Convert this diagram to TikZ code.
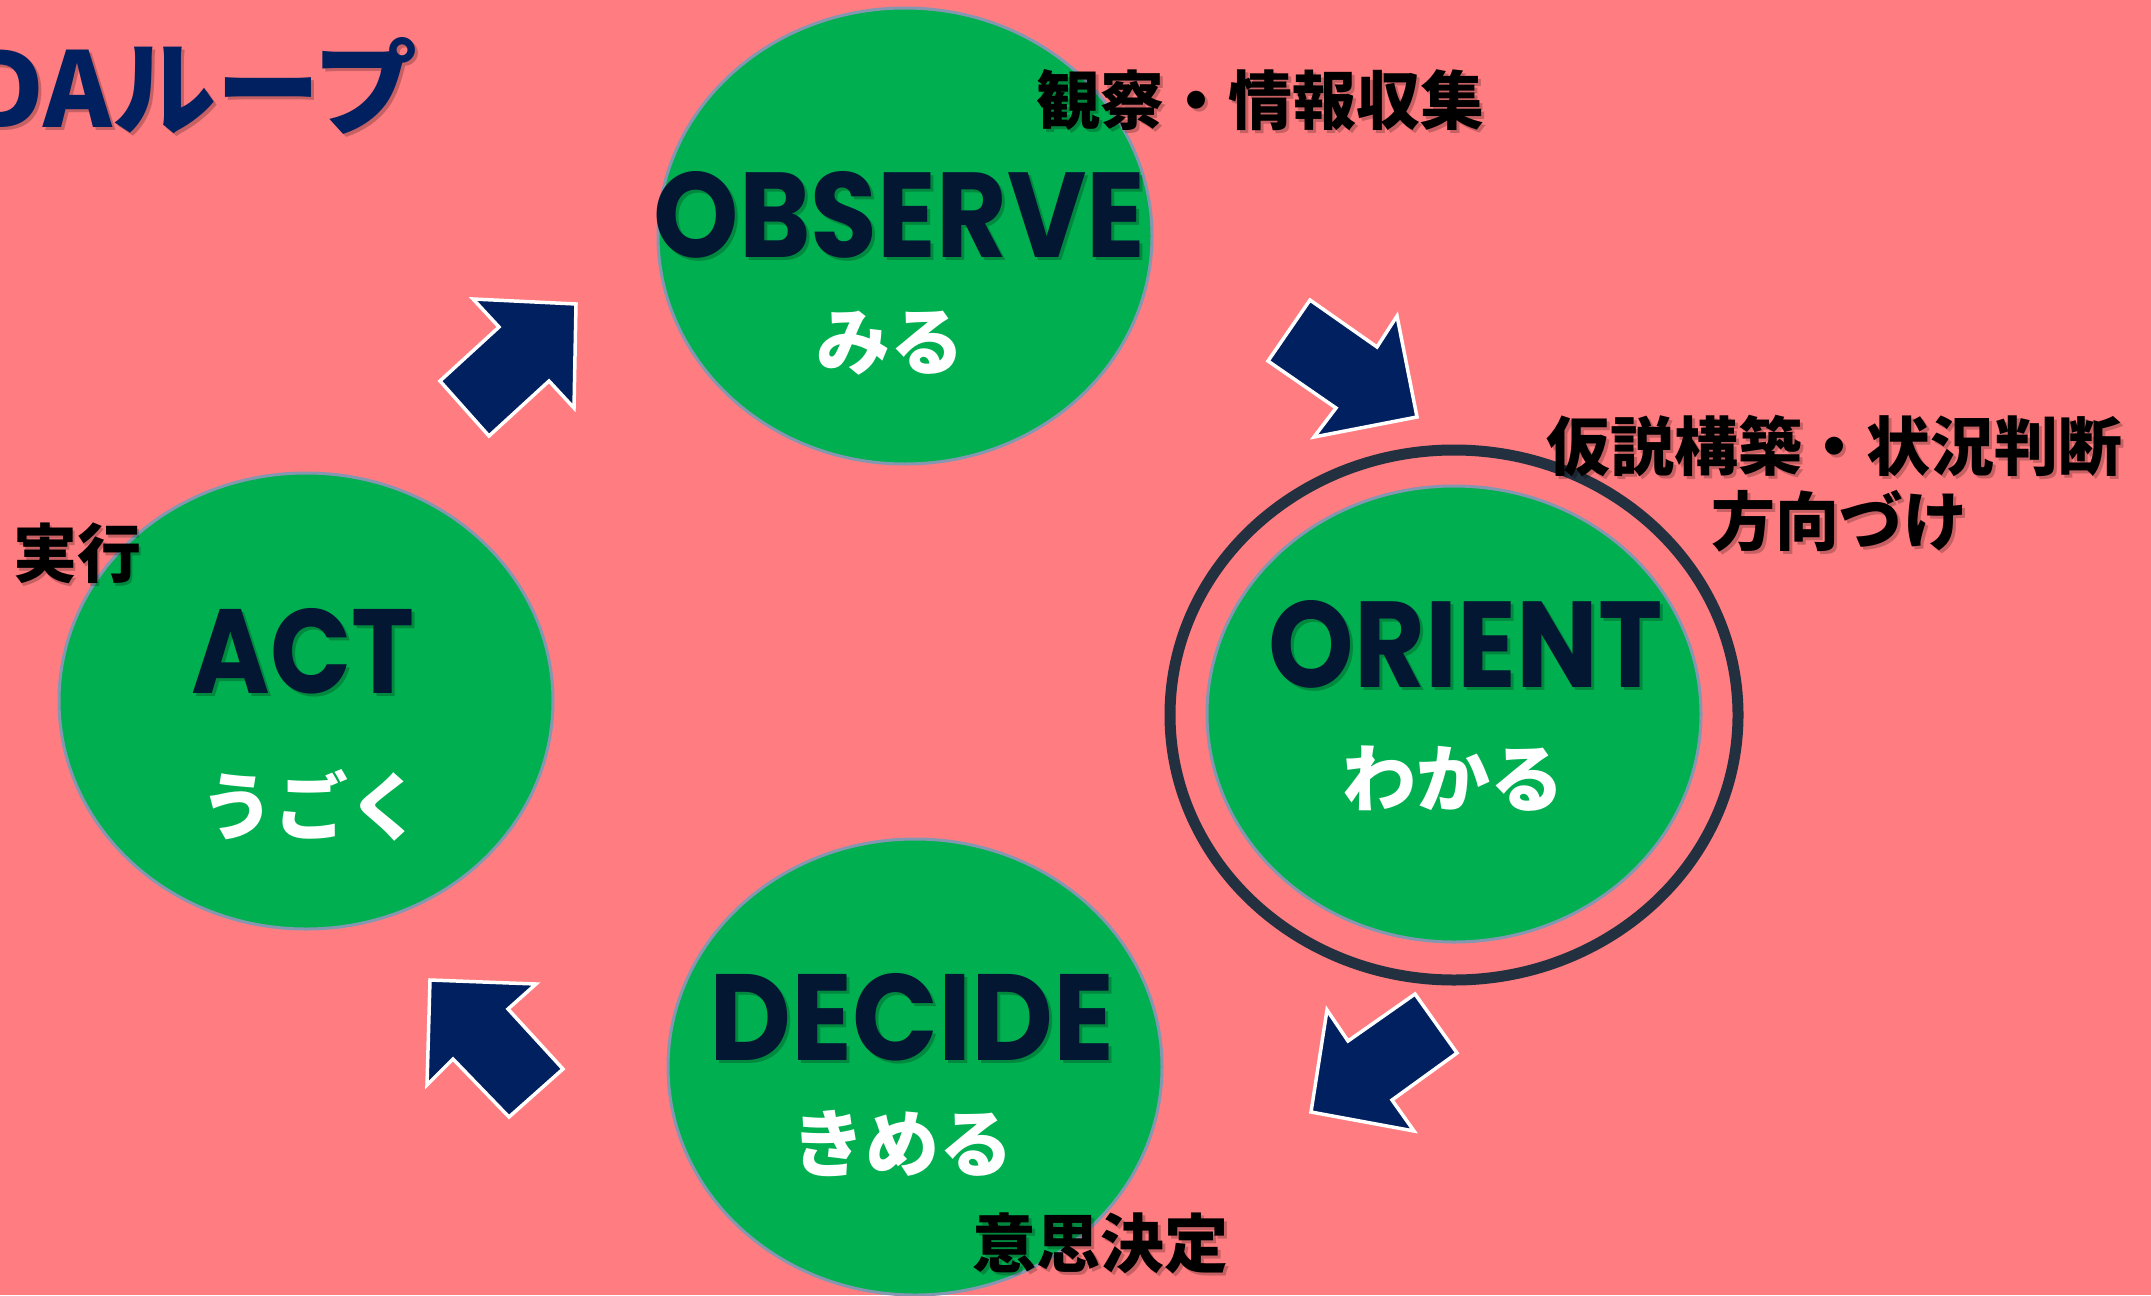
\documentclass[tikz,border=0pt]{standalone}
\usepackage{fontspec}
\usepackage{graphicx}
\usetikzlibrary{shapes.geometric,calc}
\newfontfamily\jp{Noto Sans CJK JP}
\newfontfamily\geo{Poppins}
\definecolor{bgpink}{HTML}{FF7C80}
\definecolor{cgreen}{HTML}{00B050}
\definecolor{cedge}{RGB}{132,151,176}
\definecolor{cnavy}{HTML}{002060}
\definecolor{cword}{RGB}{3,23,50}
\definecolor{cring}{RGB}{34,48,64}
\tikzset{
  blob/.style={ellipse, fill=cgreen, draw=cedge, line width=3pt, minimum width=494pt, minimum height=456pt, inner sep=0pt},
  ringstyle/.style={ellipse, draw=cring, line width=11pt, minimum width=568pt, minimum height=530pt, inner sep=0pt},
  blockarrow/.style={fill=cnavy, draw=white, line width=3.5pt, line join=miter},
  word/.style={inner sep=0pt, text=cword},
  kana/.style={inner sep=0pt, text=white, font=\jp\bfseries\fontsize{74}{80}\selectfont},
  lbl/.style={inner sep=0pt, text=black, font=\jp\bfseries\fontsize{64}{70}\selectfont},
  ttl/.style={inner sep=0pt, anchor=base east, text=cnavy, font=\jp\bfseries\fontsize{104}{110}\selectfont},
  shadowtxt/.style={text=black, text opacity=0.22}
}
\newcommand\shtxt[4]{%
  \node[#3,shadowtxt] at ($(#2)+(3,3)$) {#4};
  \node[#3] (#1) at (#2) {#4};}
\begin{document}
\begin{tikzpicture}[x=1pt,y=-1pt]
\fill[bgpink] (0,0) rectangle (2151,1295);
\useasboundingbox (0,0) rectangle (2151,1295);

% circles
\node[ringstyle] (ring) at (1454,715) {};
\node[blob] (obs) at (905,236) {};
\node[blob] (ori) at (1454,714) {};
\node[blob] (act) at (306,701) {};
\node[blob] (dec) at (915,1067) {};

% block arrows
\draw[blockarrow] (440,381) -- (499,327) -- (473,299) -- (576,304) -- (574,408) -- (549,381) -- (489,436) -- cycle;
\draw[blockarrow] (1268,361) -- (1310,300) -- (1377,347) -- (1397,316) -- (1417,417) -- (1314,437) -- (1336,408) -- cycle;
\draw[blockarrow] (1311,1112) -- (1327,1010) -- (1348,1041) -- (1415,994) -- (1457,1053) -- (1392,1100) -- (1414,1131) -- cycle;
\draw[blockarrow] (430,980) -- (536,984) -- (508,1009) -- (563,1069) -- (509,1117) -- (453,1059) -- (427,1085) -- cycle;

% words in circles
\shtxt{tobs}{899.5,215}{word}{\resizebox{491pt}{86pt}{\geo\bfseries OBSERVE}}
\shtxt{tori}{1466,644}{word}{\resizebox{394pt}{87pt}{\geo\bfseries ORIENT}}
\shtxt{tact}{303,651}{word}{\resizebox{223pt}{85pt}{\geo\bfseries ACT}}
\shtxt{tdec}{912,1017}{word}{\resizebox{405pt}{87pt}{\geo\bfseries DECIDE}}

\node[kana] (kobs) at (890,343) {みる};
\node[kana] (kori) at (1453,779) {わかる};
\node[kana] (kact) at (311,805) {うごく};
\node[kana] (kdec) at (902,1143) {きめる};

% labels
\shtxt{lobs}{1260,100}{lbl}{観察・情報収集}
\shtxt{lori1}{1834,446}{lbl}{仮説構築・状況判断}
\shtxt{lori2}{1839,521}{lbl}{方向づけ}
\shtxt{lact}{77,553}{lbl}{実行}
\shtxt{ldec}{1100,1243}{lbl}{意思決定}

% title
\shtxt{title}{418,128}{ttl}{OODAループ}
\end{tikzpicture}
\end{document}
